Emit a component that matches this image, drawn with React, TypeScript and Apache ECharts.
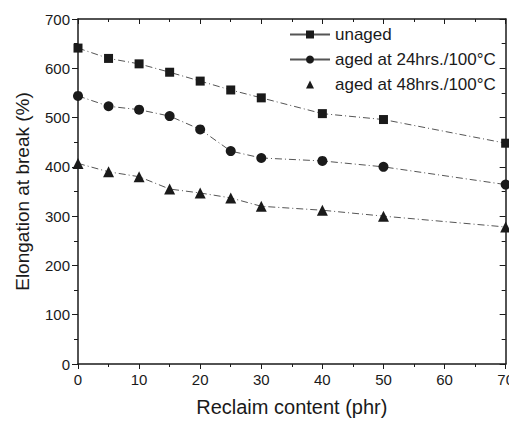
import React, { useEffect, useRef } from "react";
import * as echarts from "echarts";

const reclaim = [0, 5, 10, 15, 20, 25, 30, 40, 50, 70];
const unaged = [641, 620, 609, 592, 574, 556, 540, 508, 496, 448];
const aged24 = [544, 523, 516, 503, 476, 432, 418, 412, 400, 364];
const aged48 = [407, 390, 380, 355, 347, 337, 320, 312, 300, 278];
const seriesNames = ["unaged", "aged at 24hrs./100\u00B0C", "aged at 48hrs./100\u00B0C"];

const FONT = "Liberation Sans, Arial, sans-serif";
const INK = "#1a1a1a";

export default function App() {
  const ref = useRef<HTMLDivElement>(null);
  useEffect(() => {
    if (!ref.current) return;
    const chart = echarts.init(ref.current, undefined, { renderer: "svg" });
    const mk = (vals: number[]) => reclaim.map((x, i) => [x, vals[i]]);
    const lineStyle = { color: "#555", width: 1, type: [7, 3, 1, 3] as any };
    const baseAxis = {
      axisLine: { show: true, onZero: false, lineStyle: { color: INK, width: 1.5 } },
      splitLine: { show: false },
    };
    chart.setOption({
      animation: false,
      backgroundColor: "#fff",
      grid: { left: 78, right: 10, top: 19, bottom: 64, containLabel: false },
      legend: {
        orient: "vertical",
        left: 284,
        top: 21,
        itemWidth: 40,
        itemHeight: 10,
        itemGap: 8,
        textStyle: { fontFamily: FONT, fontSize: 17, color: INK },
        data: [
          { name: seriesNames[0], lineStyle: { type: "solid", color: "#555" } },
          { name: seriesNames[1], lineStyle: { type: "solid", color: "#555" } },
          { name: seriesNames[2], lineStyle: { opacity: 0 } },
        ],
      },
      xAxis: [
        {
          ...baseAxis,
          type: "value",
          min: 0,
          max: 70,
          interval: 10,
          name: "Reclaim content (phr)",
          nameLocation: "middle",
          nameGap: 33,
          nameTextStyle: { fontFamily: FONT, fontSize: 20, color: INK },
          axisTick: { show: true, length: 5, lineStyle: { color: INK } },
          minorTick: { show: true, splitNumber: 2, length: 3, lineStyle: { color: INK } },
          axisLabel: { fontFamily: FONT, fontSize: 15, color: INK, margin: 8 },
        },
        {
          ...baseAxis,
          type: "value",
          position: "top",
          min: 0,
          max: 70,
          interval: 10,
          axisTick: { show: true, inside: true, length: 5, lineStyle: { color: INK } },
          minorTick: { show: true, splitNumber: 2, length: 3, lineStyle: { color: INK } },
          axisLabel: { show: false },
        },
      ],
      yAxis: [
        {
          ...baseAxis,
          type: "value",
          min: 0,
          max: 700,
          interval: 100,
          name: "Elongation at break (%)",
          nameLocation: "middle",
          nameGap: 46,
          nameTextStyle: { fontFamily: FONT, fontSize: 19, color: INK },
          axisTick: { show: true, length: 6, lineStyle: { color: INK } },
          minorTick: { show: true, splitNumber: 2, length: 4, lineStyle: { color: INK } },
          axisLabel: { fontFamily: FONT, fontSize: 15, color: INK, margin: 8 },
        },
        {
          ...baseAxis,
          type: "value",
          position: "right",
          min: 0,
          max: 700,
          interval: 100,
          axisTick: { show: true, inside: true, length: 6, lineStyle: { color: INK } },
          minorTick: { show: true, splitNumber: 2, length: 4, lineStyle: { color: INK } },
          axisLabel: { show: false },
        },
      ],
      series: [
        {
          name: seriesNames[0],
          type: "line",
          data: mk(unaged),
          symbol: "rect",
          symbolSize: 9,
          itemStyle: { color: INK },
          lineStyle,
        },
        {
          name: seriesNames[1],
          type: "line",
          data: mk(aged24),
          symbol: "circle",
          symbolSize: 10,
          itemStyle: { color: INK },
          lineStyle,
        },
        {
          name: seriesNames[2],
          type: "line",
          data: mk(aged48),
          symbol: "triangle",
          symbolSize: 11,
          itemStyle: { color: INK },
          lineStyle,
        },
      ],
    });
    return () => chart.dispose();
  }, []);
  return <div ref={ref} style={{ width: 517, height: 428, margin: -8 }} />;
}
